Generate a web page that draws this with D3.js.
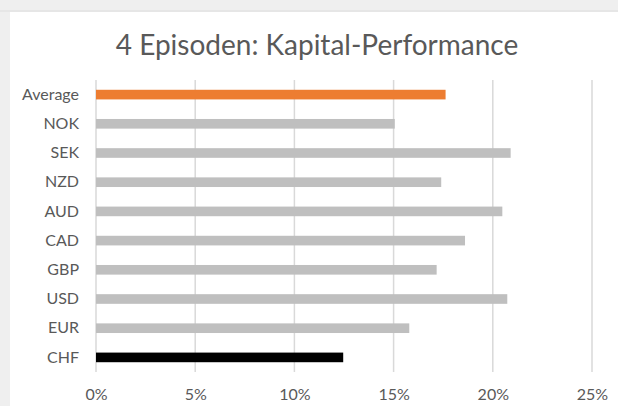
<!DOCTYPE html>
<html>
<head>
  <script src="https://d3js.org/d3.v7.min.js"></script>
  <style>
    body { margin: 0; background: #fff; }
    svg text { font-family: Lato, "Open Sans", sans-serif; fill: #595959; }
  </style>
</head>
<body>
<svg id="chart"></svg>
<script>
  // data
  var categories = ["Average", "NOK", "SEK", "NZD", "AUD", "CAD", "GBP", "USD", "EUR", "CHF"];
  var values = [0.1762, 0.1506, 0.2090, 0.1740, 0.2048, 0.1860, 0.1717, 0.2073, 0.1579, 0.1246];
  var barColors = ["#ed7d31", "#bfbfbf", "#bfbfbf", "#bfbfbf", "#bfbfbf", "#bfbfbf", "#bfbfbf", "#bfbfbf", "#bfbfbf", "#000000"];
  var xTicks = [0, 0.05, 0.10, 0.15, 0.20, 0.25];
  var title = "4 Episoden: Kapital-Performance";

  var width = 618, height = 406;
  var margin = {top: 80, right: 26, bottom: 34, left: 96};

  var svg = d3.select("#chart")
    .attr("width", width)
    .attr("height", height);

  // the grey frame on top and left
  svg.append("rect").attr("x", 0).attr("y", 0).attr("width", width).attr("height", height).attr("fill", "#efefef");
  svg.append("rect").attr("x", 0).attr("y", 10).attr("width", width).attr("height", 2).attr("fill", "#e6e6e6");
  svg.append("rect").attr("x", 10).attr("y", 12).attr("width", width - 10).attr("height", height - 12).attr("fill", "#ffffff");

  var x = d3.scaleLinear()
    .domain([0, 0.25])
    .range([margin.left, width - margin.right]);

  var y = d3.scaleBand()
    .domain(categories)
    .range([margin.top, height - margin.bottom])
    .paddingInner(0.67)
    .paddingOuter(0.335);

  // gridlines
  svg.append("g")
    .selectAll("line")
    .data(xTicks)
    .enter()
    .append("line")
    .attr("x1", d => x(d))
    .attr("x2", d => x(d))
    .attr("y1", margin.top)
    .attr("y2", height - margin.bottom)
    .attr("stroke", "#d9d9d9")
    .attr("stroke-width", 1.5);

  svg.append("g")
    .selectAll("rect")
    .data(values)
    .enter()
    .append("rect")
    .attr("x", x(0))
    .attr("y", (d, i) => y(categories[i]))
    .attr("width", d => x(d) - x(0))
    .attr("height", y.bandwidth())
    .attr("fill", (d, i) => barColors[i]);

  var xAxis = svg.append("g")
    .attr("transform", "translate(0," + (height - margin.bottom) + ")")
    .call(d3.axisBottom(x).tickValues(xTicks).tickFormat(d3.format(".0%")).tickSize(0).tickPadding(17));
  xAxis.select(".domain").remove();
  xAxis.selectAll("text").style("font-size", "16px").attr("fill", "#595959");

  var yAxis = svg.append("g")
    .attr("transform", "translate(" + (margin.left - 17) + ",0)")
    .call(d3.axisLeft(y).tickSize(0).tickPadding(0));
  yAxis.select(".domain").remove();
  yAxis.selectAll("text").style("font-size", "16px").attr("fill", "#595959");

  svg.append("text")
    .attr("x", 317)
    .attr("y", 55)
    .attr("text-anchor", "middle")
    .style("font-size", "28px")
    .text(title);
</script>
</body>
</html>
